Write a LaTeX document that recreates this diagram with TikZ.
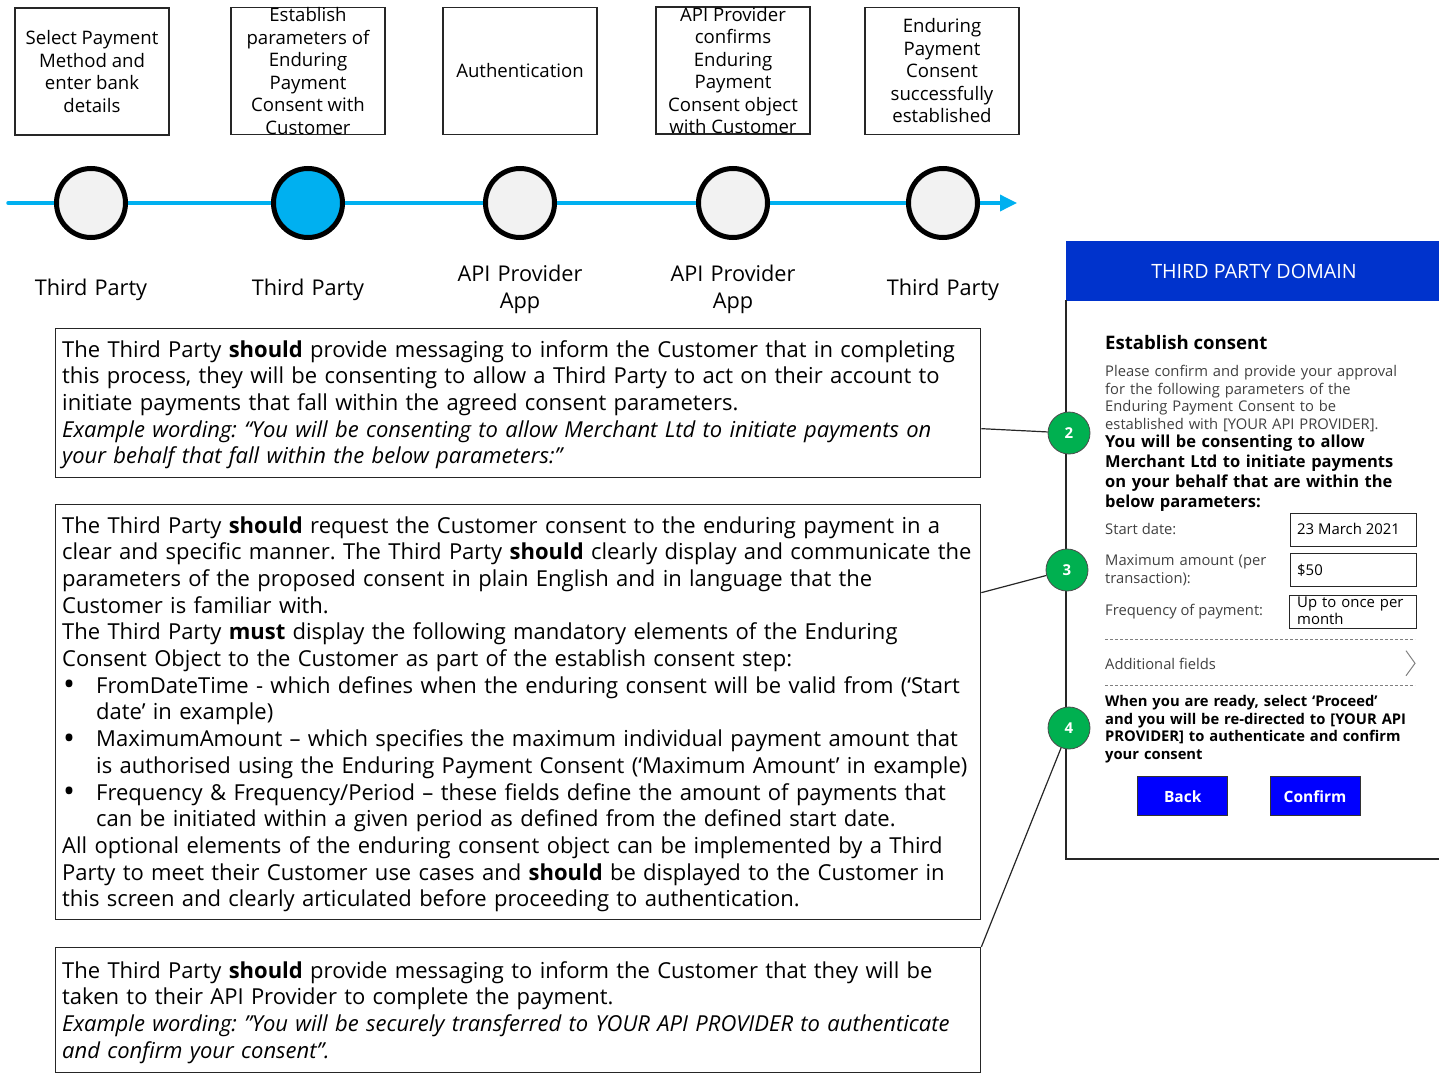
\documentclass[tikz,border=0pt]{standalone}
\usepackage{fontspec}
\setmainfont{Open Sans}
\usetikzlibrary{arrows.meta}
\definecolor{tlcyan}{HTML}{00B0F0}
\definecolor{dotgray}{HTML}{F2F2F2}
\definecolor{hdrblue}{HTML}{0033CC}
\definecolor{btnblue}{HTML}{0000FF}
\definecolor{markgreen}{HTML}{00B050}
\definecolor{bodygray}{HTML}{404040}
\definecolor{rulegray}{HTML}{808080}
\tikzset{
  stepbox/.style={draw=black!85, line width=1.3pt, minimum width=154pt, minimum height=127pt, inner sep=0pt, align=center, font=\fontsize{18.6}{22.5}\selectfont},
  stepdot/.style={circle, draw=black, line width=5pt, minimum size=69pt, inner sep=0pt, fill=dotgray},
  actor/.style={anchor=base, inner sep=0pt, text width=170pt, align=center, font=\fontsize{21.7}{27}\selectfont},
  notebox/.style={draw=black!85, line width=1.3pt, inner sep=0pt, anchor=north west, minimum width=925pt},
  notetext/.style={anchor=base west, inner sep=0pt, text width=950pt, align=left, font=\fontsize{22}{26.7}\selectfont},
  ptext/.style={anchor=base west, inner sep=0pt, text=bodygray, align=left, font=\fontsize{14.75}{17.5}\selectfont},
  pbold/.style={anchor=base west, inner sep=0pt, text=black, align=left, font=\fontsize{16.5}{20}\selectfont\bfseries},
  field/.style={draw=black!85, line width=1pt, anchor=north west, inner sep=0pt},
  fieldtext/.style={anchor=base west, inner sep=0pt, align=left, font=\fontsize{14.9}{17}\selectfont},
  button/.style={draw=black!80, line width=1pt, fill=btnblue, text=white, font=\fontsize{15.5}{20}\selectfont\bfseries, minimum width=90pt, minimum height=39pt, inner sep=0pt},
  marker/.style={circle, draw=black!70, line width=0.8pt, fill=markgreen, text=white, font=\fontsize{15}{15}\selectfont\bfseries, minimum size=42pt, inner sep=0pt},
  link/.style={draw=black!85, line width=1.2pt},
  dashrule/.style={draw=rulegray, line width=1pt, dash pattern=on 3pt off 2pt},
}
\newcommand{\bul}{\makebox[34pt][l]{\hspace*{1pt}\raisebox{-0.12em}{\scalebox{1.45}{•}}}}
\newcommand{\bulcont}{\hspace*{34pt}}
\newcommand{\straightquote}{{\addfontfeature{Ligatures=ResetAll}"}}
\frenchspacing
\begin{document}
\begin{tikzpicture}[x=1pt, y=-1pt]
\useasboundingbox (0,0) rectangle (1439,1076);

% step boxes
\node[stepbox] (s1) at (92,71.5) {Select Payment\\Method and\\enter bank\\details};
\node[stepbox] (s2) at (308,71) {Establish\\parameters of\\Enduring\\Payment\\Consent with\\Customer};
\node[stepbox] (s3) at (520,71) {Authentication};
\node[stepbox] (s4) at (733,70.5) {API Provider\\confirms\\Enduring\\Payment\\Consent object\\with Customer};
\node[stepbox] (s5) at (942,71) {Enduring\\Payment\\Consent\\successfully\\established};

% timeline
\coordinate (tlstart) at (8,203);
\coordinate (tlend) at (1017,203);
\draw[tlcyan, line width=3.5pt, line cap=round, -{Triangle[length=17pt,width=16pt]}] (tlstart) -- (tlend);
\node[stepdot] (d1) at (91,203) {};
\node[stepdot, fill=tlcyan] (d2) at (308,203) {};
\node[stepdot] (d3) at (520,203) {};
\node[stepdot] (d4) at (733,203) {};
\node[stepdot] (d5) at (943,203) {};

% actors
\node[actor] (a1) at (91,295) {Third Party};
\node[actor] (a2) at (308,295) {Third Party};
\node[actor] (a3) at (520,281.5) {API Provider\\App};
\node[actor] (a4) at (733,281.5) {API Provider\\App};
\node[actor] (a5) at (943,295) {Third Party};

% note boxes
\node[notebox, minimum height=149pt] (note1) at (55,328) {};
\node[notetext] (note1t) at (62,357) {The Third Party \textbf{should} provide messaging to inform the Customer that in completing\\
this process, they will be consenting to allow a Third Party to act on their account to\\
initiate payments that fall within the agreed consent parameters.\\
\textit{Example wording: “You will be consenting to allow Merchant Ltd to initiate payments on}\\
\textit{your behalf that fall within the below parameters:”}};

\node[notebox, minimum height=415pt] (note2) at (55,504) {};
\node[notetext] (note2t) at (62,533) {The Third Party \textbf{should} request the Customer consent to the enduring payment in a\\
clear and specific manner. The Third Party \textbf{should} clearly display and communicate the\\
parameters of the proposed consent in plain English and in language that the\\
Customer is familiar with.\\
The Third Party \textbf{must} display the following mandatory elements of the Enduring\\
Consent Object to the Customer as part of the establish consent step:\\
\bul FromDateTime - which defines when the enduring consent will be valid from (‘Start\\
\bulcont date’ in example)\\
\bul MaximumAmount – which specifies the maximum individual payment amount that\\
\bulcont is authorised using the Enduring Payment Consent (‘Maximum Amount’ in example)\\
\bul Frequency \& Frequency/Period – these fields define the amount of payments that\\
\bulcont can be initiated within a given period as defined from the defined start date.\\
All optional elements of the enduring consent object can be implemented by a Third\\
Party to meet their Customer use cases and \textbf{should} be displayed to the Customer in\\
this screen and clearly articulated before proceeding to authentication.};

\node[notebox, minimum height=125pt] (note3) at (55,947) {};
\node[notetext] (note3t) at (62,978) {The Third Party \textbf{should} provide messaging to inform the Customer that they will be\\
taken to their API Provider to complete the payment.\\
\textit{Example wording: \straightquote You will be securely transferred to YOUR API PROVIDER to authenticate}\\
\textit{and confirm your consent”.}};

% phone panel
\fill[hdrblue] (1066,241) rectangle (1439,300.5);
\draw[black!85, line width=1.2pt] (1066,300) -- (1066,859) -- (1440,859);
\node[anchor=base, inner sep=0pt, text=white, font=\fontsize{19.7}{20}\selectfont] (hdr) at (1254,278.3) {THIRD PARTY DOMAIN};

\node[pbold, font=\fontsize{18.6}{20}\selectfont\bfseries] (ptitle) at (1105,349.3) {Establish consent};
\node[ptext, text width=330pt] (pintro) at (1105,376.7) {Please confirm and provide your approval\\for the following parameters of the\\Enduring Payment Consent to be\\established with [YOUR API PROVIDER].};
\node[pbold, text width=330pt] (pconsent) at (1105,447.3) {You will be consenting to allow\\Merchant Ltd to initiate payments\\on your behalf that are within the\\below parameters:};

\node[ptext] (lstart) at (1105,534) {Start date:};
\node[field, minimum width=126pt, minimum height=33pt] (fstart) at (1289.5,513.3) {};
\node[fieldtext] (vstart) at (1297,534) {23 March 2021};

\node[ptext, text width=180pt] (lmax) at (1105,565.7) {Maximum amount (per\\transaction):};
\node[field, minimum width=126pt, minimum height=33pt] (fmax) at (1289.5,553.3) {};
\node[fieldtext] (vmax) at (1297,575) {\$50};

\node[ptext] (lfreq) at (1105,615.7) {Frequency of payment:};
\node[field, minimum width=127pt, minimum height=33pt] (ffreq) at (1288.5,595.3) {};
\node[fieldtext, text width=125pt, font=\fontsize{14.9}{16.7}\selectfont] (vfreq) at (1297,607.3) {Up to once per\\month};

\draw[dashrule] (1105,639) -- (1415,639);
\node[ptext] (ladd) at (1105,669.3) {Additional fields};
\draw[rulegray, line width=1pt] (1406,650.7) -- (1415,663.3) -- (1406,675.7);
\draw[dashrule] (1105,685.7) -- (1415,685.7);

\node[pbold, font=\fontsize{14.75}{17.5}\selectfont\bfseries, text width=330pt] (pready) at (1105,706.7) {When you are ready, select ‘Proceed’\\and you will be re-directed to [YOUR API\\PROVIDER] to authenticate and confirm\\your consent};

\node[button] (bback) at (1182.7,796.2) {Back};
\node[button] (bconfirm) at (1315,796.2) {Confirm};

% markers
\node[marker] (m2) at (1069,433) {2};
\node[marker] (m3) at (1067,570) {3};
\node[marker] (m4) at (1069,728) {4};

% connectors
\draw[link] ([yshift=-25.5pt]note1.east) -- (m2);
\draw[link] ([yshift=119.5pt]note2.east) -- (m3);
\draw[link] (note3.north east) -- (m4);
\end{tikzpicture}
\end{document}
